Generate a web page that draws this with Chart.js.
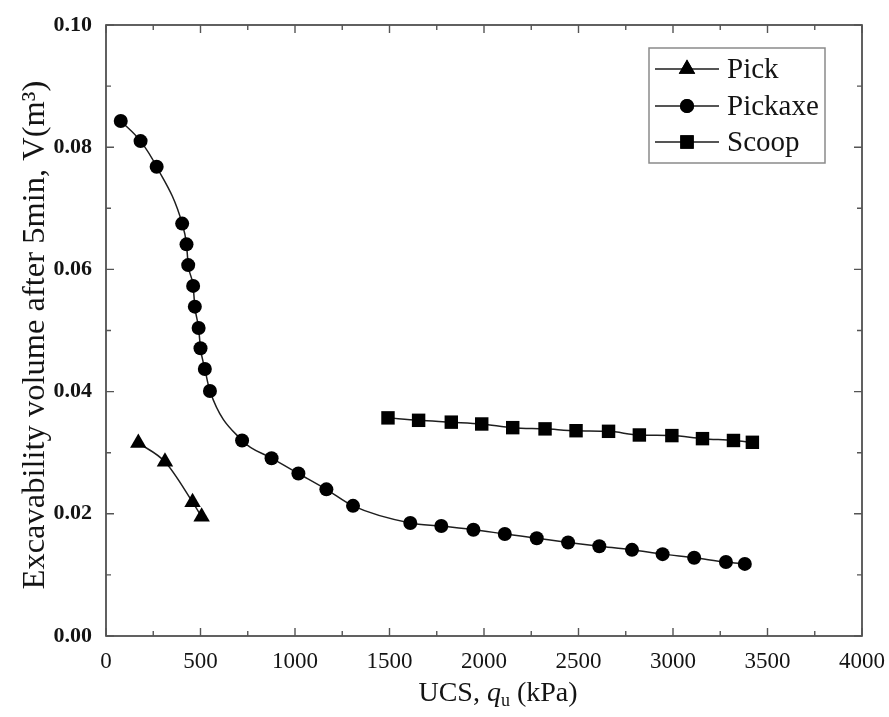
<!DOCTYPE html>
<html>
<head>
<meta charset="utf-8">
<script src="https://cdn.jsdelivr.net/npm/chart.js@4/dist/chart.umd.min.js"></script>
<style>
html,body{margin:0;padding:0;background:#fff;}
#c{display:block;}
</style>
</head>
<body>
<canvas id="c" width="889" height="717"></canvas>
<script>
// ---- data ----
const seriesNames = ["Pick", "Pickaxe", "Scoop"];

const pickX = [171, 312, 458, 506];
const pickY = [0.0316, 0.0285, 0.0219, 0.0195];

const pickaxeX = [78, 183, 268, 403, 426, 435, 461, 470, 490, 500, 523, 550, 720, 876, 1018, 1166, 1307, 1610, 1774, 1944, 2110, 2279, 2445, 2610, 2783, 2945, 3112, 3280, 3380];
const pickaxeY = [0.0843, 0.0810, 0.0768, 0.0675, 0.0641, 0.0607, 0.0573, 0.0539, 0.0504, 0.0471, 0.0437, 0.0401, 0.0320, 0.0291, 0.0266, 0.0240, 0.0213, 0.0185, 0.0180, 0.0174, 0.0167, 0.0160, 0.0153, 0.0147, 0.0141, 0.0134, 0.0128, 0.0121, 0.0118];

const scoopX = [1492, 1654, 1827, 1988, 2152, 2323, 2487, 2659, 2822, 2994, 3156, 3320, 3420];
const scoopY = [0.0357, 0.0353, 0.0350, 0.0347, 0.0341, 0.0339, 0.0336, 0.0335, 0.0329, 0.0328, 0.0323, 0.0320, 0.0317];

const xTickValues = [0, 500, 1000, 1500, 2000, 2500, 3000, 3500, 4000];
const yTickValues = [0.00, 0.02, 0.04, 0.06, 0.08, 0.10];

const yTitle = "Excavability volume after 5min, V(m\u00B3)";
const xTitleParts = ["UCS, ", "q", "u", " (kPa)"];

// ---- build ----
function pts(xs, ys){ return xs.map((x,i)=>({x:x, y:ys[i]})); }

const SERIF = "'Liberation Serif', 'Times New Roman', serif";
const INK = "#141414";

function ds(label, xs, ys, style, radius){
  return {
    label: label,
    data: pts(xs, ys),
    showLine: true,
    borderColor: "#1e1e1e",
    borderWidth: 1.5,
    backgroundColor: "#000",
    pointBackgroundColor: "#000",
    pointBorderColor: "#000",
    pointBorderWidth: 0,
    pointStyle: style,
    pointRadius: radius,
    pointHoverRadius: radius,
    cubicInterpolationMode: "monotone",
    tension: 0.4
  };
}

const frameTicks = {
  id: "frameTicks",
  afterDraw(chart){
    const ctx = chart.ctx;
    const a = chart.chartArea;
    const xs = chart.scales.x, ys = chart.scales.y;
    ctx.save();
    ctx.strokeStyle = "#3a3a3a";
    ctx.lineWidth = 1.6;
    ctx.strokeRect(a.left, a.top, a.right - a.left, a.bottom - a.top);
    ctx.lineWidth = 1.4;
    ctx.strokeStyle = "#555";
    ctx.beginPath();
    for (let v = 0; v <= 4000; v += 250){
      const p = xs.getPixelForValue(v);
      const L = (v % 500 === 0) ? 8 : 5;
      ctx.moveTo(p, a.bottom); ctx.lineTo(p, a.bottom - L);
      ctx.moveTo(p, a.top); ctx.lineTo(p, a.top + L);
    }
    for (let k = 0; k <= 10; k++){
      const v = k * 0.01;
      const p = ys.getPixelForValue(v);
      const L = (k % 2 === 0) ? 8 : 5;
      ctx.moveTo(a.left, p); ctx.lineTo(a.left + L, p);
      ctx.moveTo(a.right, p); ctx.lineTo(a.right - L, p);
    }
    ctx.stroke();
    ctx.restore();
  }
};

const legendBox = {
  id: "legendBox",
  afterDraw(chart){
    const ctx = chart.ctx;
    ctx.save();
    const bx = 649, by = 48, bw = 176, bh = 115;
    ctx.strokeStyle = "#8a8a8a";
    ctx.lineWidth = 1.5;
    ctx.fillStyle = "#fff";
    ctx.fillRect(bx, by, bw, bh);
    ctx.strokeRect(bx, by, bw, bh);
    const rows = [69, 106, 142];
    chart.data.datasets.forEach((d, i) => {
      const y = rows[i];
      ctx.strokeStyle = "#555";
      ctx.lineWidth = 2;
      ctx.beginPath();
      ctx.moveTo(655, y); ctx.lineTo(719, y);
      ctx.stroke();
      ctx.fillStyle = "#000";
      Chart.helpers.drawPoint(ctx, {pointStyle: d.pointStyle, radius: d.pointRadius, borderWidth: 0}, 687, y);
      ctx.fill();
      ctx.fillStyle = INK;
      ctx.font = "29px " + SERIF;
      ctx.textAlign = "left";
      ctx.textBaseline = "middle";
      ctx.fillText(d.label, 727, y + 1);
    });
    ctx.restore();
  }
};

const titles = {
  id: "titles",
  afterDraw(chart){
    const ctx = chart.ctx;
    ctx.save();
    ctx.fillStyle = INK;
    // y title
    ctx.translate(35, 335);
    ctx.rotate(-Math.PI/2);
    ctx.font = "32.5px " + SERIF;
    ctx.textAlign = "center";
    ctx.textBaseline = "middle";
    ctx.fillText(yTitle, 0, 0);
    ctx.restore();
    // x title with italic q and subscript u
    ctx.save();
    ctx.fillStyle = INK;
    ctx.textBaseline = "alphabetic";
    const fN = "28px " + SERIF, fI = "italic 28px " + SERIF, fS = "18px " + SERIF;
    ctx.font = fN; const w0 = ctx.measureText(xTitleParts[0]).width;
    ctx.font = fI; const w1 = ctx.measureText(xTitleParts[1]).width;
    ctx.font = fS; const w2 = ctx.measureText(xTitleParts[2]).width;
    ctx.font = fN; const w3 = ctx.measureText(xTitleParts[3]).width;
    const total = w0 + w1 + w2 + w3;
    let x = 498 - total/2;
    const base = 701;
    ctx.textAlign = "left";
    ctx.font = fN; ctx.fillText(xTitleParts[0], x, base); x += w0;
    ctx.font = fI; ctx.fillText(xTitleParts[1], x, base); x += w1;
    ctx.font = fS; ctx.fillText(xTitleParts[2], x, base + 5); x += w2;
    ctx.font = fN; ctx.fillText(xTitleParts[3], x, base);
    ctx.restore();
  }
};

new Chart(document.getElementById("c"), {
  type: "scatter",
  data: {
    datasets: [
      ds(seriesNames[0], pickX, pickY, "triangle", 9.5),
      ds(seriesNames[1], pickaxeX, pickaxeY, "circle", 7),
      ds(seriesNames[2], scoopX, scoopY, "rect", 9.5)
    ]
  },
  options: {
    responsive: false,
    animation: false,
    devicePixelRatio: 1,
    layout: { padding: { top: 25, right: 26, left: 0, bottom: 0 } },
    plugins: {
      legend: { display: false },
      tooltip: { enabled: false }
    },
    scales: {
      x: {
        type: "linear",
        min: 0, max: 4000,
        afterBuildTicks(s){ s.ticks = xTickValues.map(v => ({value: v})); },
        afterFit(s){ s.height = 81; },
        grid: { display: false },
        border: { display: false },
        ticks: {
          padding: 4,
          color: INK,
          maxRotation: 0,
          font: { family: SERIF, size: 23 },
          callback: v => String(v)
        }
      },
      y: {
        type: "linear",
        min: 0, max: 0.1,
        afterBuildTicks(s){ s.ticks = yTickValues.map(v => ({value: v})); },
        afterFit(s){ s.width = 106; },
        grid: { display: false },
        border: { display: false },
        ticks: {
          padding: 6,
          color: INK,
          font: { family: SERIF, size: 22, weight: "bold" },
          callback: v => Number(v).toFixed(2)
        }
      }
    }
  },
  plugins: [frameTicks, legendBox, titles]
});
</script>
</body>
</html>
